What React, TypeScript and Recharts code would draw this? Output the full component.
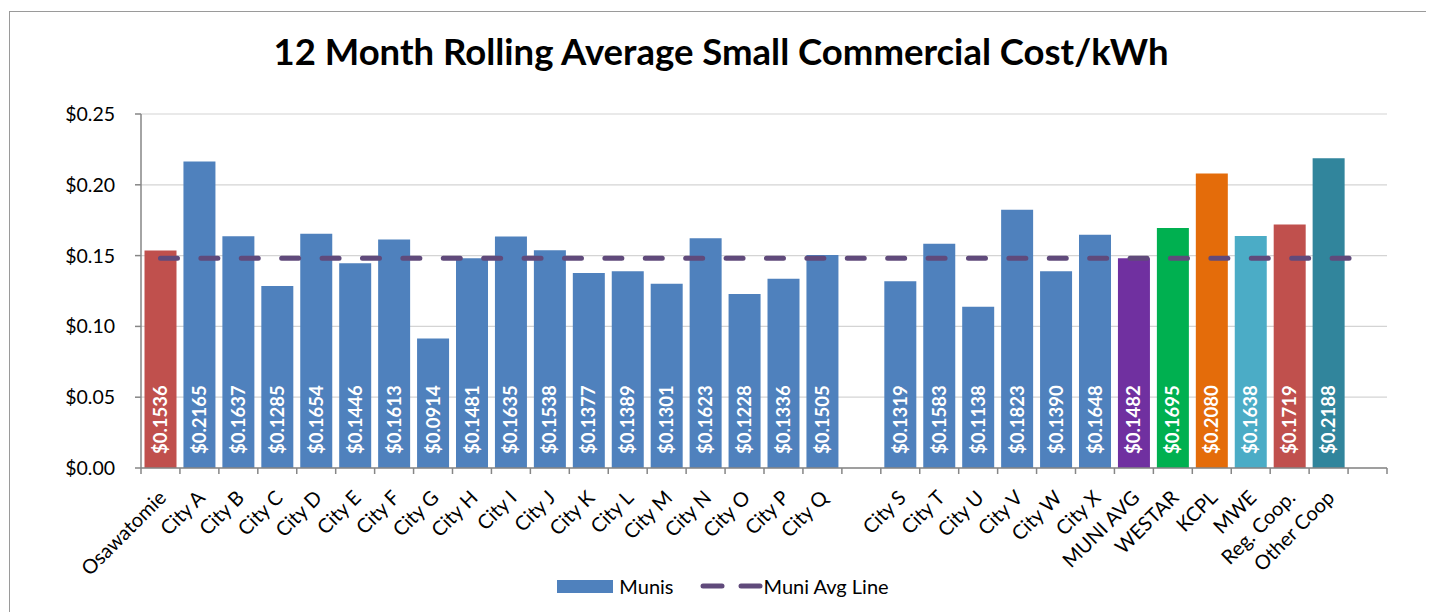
import React from "react";
import {
  ComposedChart,
  Bar,
  Line,
  XAxis,
  YAxis,
  CartesianGrid,
  Legend,
  Cell,
  LabelList,
} from "recharts";

const categories = [
  "Osawatomie", "City A", "City B", "City C", "City D", "City E", "City F", "City G",
  "City H", "City I", "City J", "City K", "City L", "City M", "City N", "City O",
  "City P", "City Q", "", "City S", "City T", "City U", "City V", "City W", "City X",
  "MUNI AVG", "WESTAR", "KCPL", "MWE", "Reg. Coop.", "Other Coop", " ",
];

const muniValues: (number | null)[] = [
  0.1536, 0.2165, 0.1637, 0.1285, 0.1654, 0.1446, 0.1613, 0.0914,
  0.1481, 0.1635, 0.1538, 0.1377, 0.1389, 0.1301, 0.1623, 0.1228,
  0.1336, 0.1505, null, 0.1319, 0.1583, 0.1138, 0.1823, 0.139, 0.1648,
  0.1482, 0.1695, 0.208, 0.1638, 0.1719, 0.2188, null,
];

const MUNI_AVG = 0.1482;

const BLUE = "#4F81BD";
const barColors = [
  "#C0504D", BLUE, BLUE, BLUE, BLUE, BLUE, BLUE, BLUE,
  BLUE, BLUE, BLUE, BLUE, BLUE, BLUE, BLUE, BLUE,
  BLUE, BLUE, BLUE, BLUE, BLUE, BLUE, BLUE, BLUE, BLUE,
  "#7030A0", "#00B050", "#E46C0A", "#4BACC6", "#C0504D", "#31859C", BLUE,
];

const yTicks = [0, 0.05, 0.1, 0.15, 0.2, 0.25];

const data = categories.map((name, i) => ({
  name,
  munis: muniValues[i],
  avg: MUNI_AVG,
}));

const FONT = "Lato, 'Open Sans', sans-serif";
const CHART_W = 1426;
const CHART_H = 604;
const MARGIN = { top: 106, right: 47, bottom: 0, left: 0 };
const Y_AXIS_W = 133;
const PLOT_W = CHART_W - MARGIN.left - MARGIN.right - Y_AXIS_W;
const STEP = PLOT_W / categories.length;
const AXIS_COLOR = "#868686";
const LINE_COLOR = "#604A7B";

const XTick = (props: any) => {
  const { x, y, payload, index } = props;
  const last = index === categories.length - 1;
  const ax = x + 7;
  const ay = y + 31;
  return (
    <g>
      <line x1={x - STEP / 2} y1={y} x2={x - STEP / 2} y2={y + 6} stroke={AXIS_COLOR} strokeWidth={1.5} />
      {last && (
        <line x1={x + STEP / 2} y1={y} x2={x + STEP / 2} y2={y + 6} stroke={AXIS_COLOR} strokeWidth={1.5} />
      )}
      <text
        x={ax}
        y={ay}
        transform={`rotate(-45, ${ax}, ${ay})`}
        textAnchor="end"
        fontFamily={FONT}
        fontSize={20}
        fill="#000"
      >
        {payload.value}
      </text>
    </g>
  );
};

const BarLabel = (props: any) => {
  const { x, y, width, height, value } = props;
  if (value == null) return null;
  const cx = x + width / 2;
  const bottom = y + height;
  const ax = cx + 6.5;
  const ay = bottom - 14;
  return (
    <text
      x={ax}
      y={ay}
      transform={`rotate(-90, ${ax}, ${ay})`}
      textAnchor="start"
      fontFamily={FONT}
      fontWeight={700}
      fontSize={18.5}
      fill="#fff"
    >
      {`$${Number(value).toFixed(4)}`}
    </text>
  );
};

const LegendContent = () => (
  <div
    style={{
      display: "flex",
      justifyContent: "center",
      alignItems: "center",
      fontFamily: FONT,
      fontSize: 20,
      color: "#000",
      height: 22,
      paddingLeft: 4,
    }}
  >
    <span style={{ display: "inline-block", width: 56, height: 13, background: BLUE, marginRight: 6 }} />
    <span>Munis</span>
    <svg width={66} height={14} style={{ marginLeft: 24 }}>
      <line x1={5} y1={7} x2={24} y2={7} stroke={LINE_COLOR} strokeWidth={5} strokeLinecap="round" />
      <line x1={43} y1={7} x2={62} y2={7} stroke={LINE_COLOR} strokeWidth={5} strokeLinecap="round" />
    </svg>
    <span>Muni Avg Line</span>
  </div>
);

export default function App() {
  return (
    <div style={{ position: "relative", width: CHART_W, height: CHART_H, overflow: "hidden", background: "#fff" }}>
      <div
        style={{
          position: "absolute",
          left: 1,
          top: 3,
          width: 1423,
          height: 700,
          border: "1.5px solid #9a9a9a",
          boxSizing: "border-box",
        }}
      />
      <svg style={{ position: "absolute", left: 0, top: 0 }} width={CHART_W} height={100}>
        <text x={713} y={57} textAnchor="middle" fontFamily={FONT} fontWeight={700} fontSize={36.5} fill="#000">
          12 Month Rolling Average Small Commercial Cost/kWh
        </text>
      </svg>
      <div style={{ position: "absolute", left: 0, top: 0 }}>
        <ComposedChart width={CHART_W} height={CHART_H} data={data} margin={MARGIN} barCategoryGap="9%">
          <CartesianGrid horizontal vertical={false} stroke="#d4d4d4" strokeWidth={1.2} />
          <XAxis
            dataKey="name"
            interval={0}
            tickLine={false}
            tickSize={0}
            tickMargin={0}
            height={144}
            tick={<XTick />}
            stroke={AXIS_COLOR}
            strokeWidth={1.5}
          />
          <YAxis
            domain={[0, 0.25]}
            ticks={yTicks}
            width={Y_AXIS_W}
            tickFormatter={(v: number) => `$${v.toFixed(2)}`}
            tick={{ fontFamily: FONT, fontSize: 19.5, fill: "#000" }}
            tickSize={6}
            tickMargin={20}
            stroke={AXIS_COLOR}
            strokeWidth={1.5}
            tickLine={{ stroke: AXIS_COLOR, strokeWidth: 1.5 }}
          />
          <Legend
            layout="horizontal"
            verticalAlign="middle"
            align="center"
            content={<LegendContent />}
            wrapperStyle={{ left: 0, top: 567, width: CHART_W }}
          />
          <Bar dataKey="munis" name="Munis" fill={BLUE} isAnimationActive={false}>
            {data.map((d, i) => (
              <Cell key={i} fill={barColors[i]} />
            ))}
            <LabelList dataKey="munis" content={<BarLabel />} />
          </Bar>
          <Line
            dataKey="avg"
            name="Muni Avg Line"
            stroke={LINE_COLOR}
            strokeWidth={5}
            strokeDasharray="17 23.4"
            strokeLinecap="round"
            dot={false}
            activeDot={false}
            isAnimationActive={false}
          />
        </ComposedChart>
      </div>
    </div>
  );
}
